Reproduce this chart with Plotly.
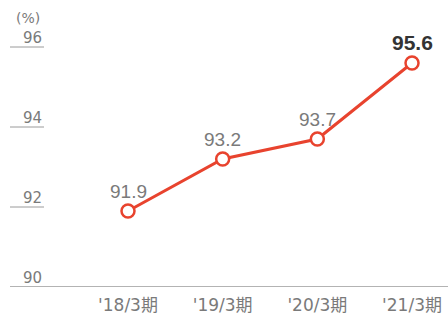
import plotly.graph_objects as go

categories = ["'18/3期", "'19/3期", "'20/3期", "'21/3期"]
values = [91.9, 93.2, 93.7, 95.6]
value_labels = ["91.9", "93.2", "93.7", "95.6"]
y_ticks = [90, 92, 94, 96]

FONT = "Liberation Sans, Arial, Noto Sans CJK JP, sans-serif"
TFONT = "DejaVu Sans, Noto Sans CJK JP, sans-serif"
RED = "#e8432e"
GRAY = "#7a7a7a"

fig = go.Figure()
fig.add_trace(go.Scatter(
    x=list(range(len(categories))), y=values, mode="lines+markers",
    line=dict(color=RED, width=3),
    marker=dict(size=13, color="white", line=dict(color=RED, width=2.5)),
    hoverinfo="skip", cliponaxis=False,
))

annotations = []
for i, (v, t) in enumerate(zip(values, value_labels)):
    last = i == len(values) - 1
    annotations.append(dict(
        x=i, y=v, xref="x", yref="y", text=f"<b>{t}</b>" if last else t,
        showarrow=False, yanchor="bottom", yshift=7,
        font=dict(family=FONT, size=21 if last else 19, color="#333333" if last else GRAY),
    ))
for t in y_ticks:
    annotations.append(dict(
        x=44 / 448, y=t, xref="paper", yref="y", text=str(t), showarrow=False,
        xanchor="right", yanchor="bottom", yshift=-2,
        font=dict(family=TFONT, size=15, color=GRAY),
    ))
annotations.append(dict(
    x=14 / 448, y=y_ticks[-1], xref="paper", yref="y", text="(%)", showarrow=False,
    xanchor="left", yanchor="bottom", yshift=19,
    font=dict(family=TFONT, size=14, color=GRAY),
))

shapes = []
for t in y_ticks[1:]:
    shapes.append(dict(type="line", xref="paper", yref="y", x0=10 / 448, x1=44 / 448,
                       y0=t, y1=t, line=dict(color="#9a9a9a", width=1)))
shapes.append(dict(type="line", xref="paper", yref="y", x0=10 / 448, x1=1,
                   y0=y_ticks[0], y1=y_ticks[0], line=dict(color="#9a9a9a", width=1.5)))

fig.update_layout(
    width=448, height=321,
    margin=dict(l=0, r=0, t=0, b=34),
    paper_bgcolor="white", plot_bgcolor="white",
    showlegend=False,
    annotations=annotations, shapes=shapes,
    xaxis=dict(range=[-1.352, 3.38], tickmode="array", tickvals=list(range(len(categories))),
               ticktext=categories, showgrid=False, zeroline=False, showline=False,
               ticks="", ticklabelstandoff=6,
               tickfont=dict(family=TFONT, size=17, color=GRAY), fixedrange=True),
    yaxis=dict(range=[90, 97.175], showticklabels=False, showgrid=False, zeroline=False,
               showline=False, ticks="", fixedrange=True),
)
fig.write_html("out.html")
